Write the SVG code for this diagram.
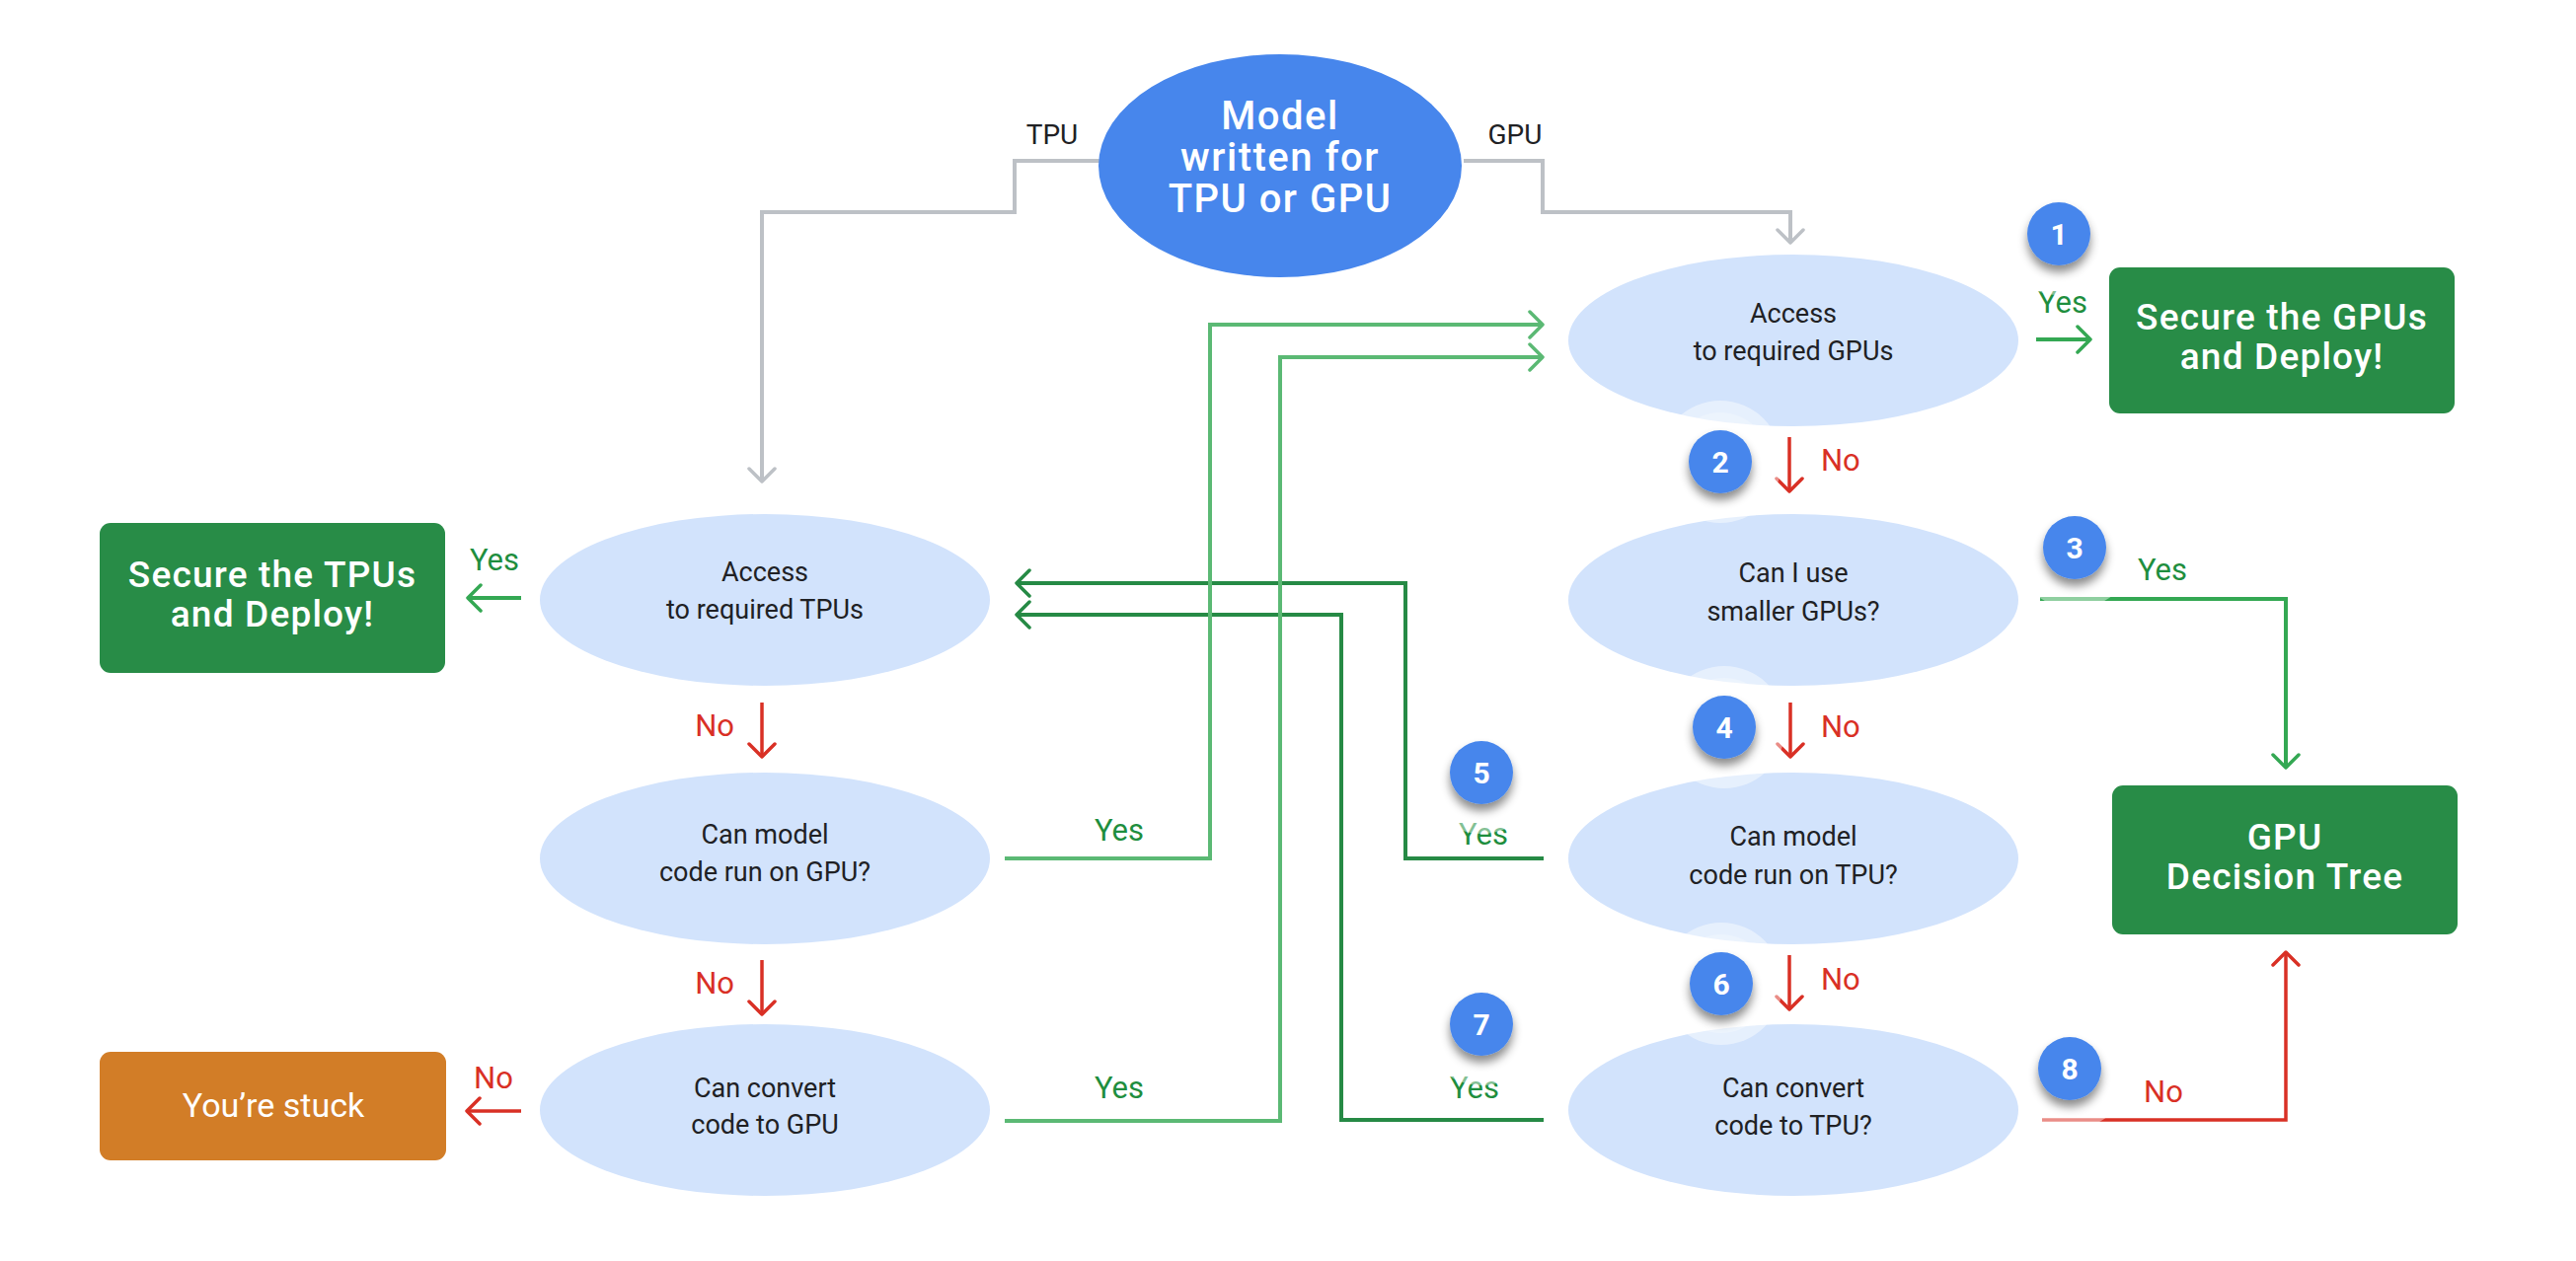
<svg xmlns="http://www.w3.org/2000/svg" width="2610" height="1278" viewBox="0 0 2610 1278">
<style>
text{font-family:"Google Sans",Roboto,"Open Sans","Liberation Sans",sans-serif}
.q{fill:#d2e3fc}
.qt{fill:#202124;font-size:27px;text-anchor:middle}
.bt{fill:#fff;font-size:37px;font-weight:500;letter-spacing:1.2px;text-anchor:middle}
.yes{fill:#1e8e3e;font-size:31px}
.no{fill:#d93025;font-size:31px}
.lab{fill:#202124;font-size:28px;text-anchor:middle}
.c{fill:none;stroke-width:4}
.gray{stroke:#bdc1c6}
.lg{stroke:#5bb974}
.dg{stroke:#268a45}
.mg{stroke:#34a853}
.red{stroke:#d93025;stroke-width:3.5}
.bd{fill:#4786ec}
.bn{fill:#fff;font-size:30px;font-weight:700;text-anchor:middle}
.halo1{fill:#fff;fill-opacity:0.45}
.halo2{fill:#fff;fill-opacity:0.25}
.mt{fill:#fff;font-size:40px;font-weight:500;letter-spacing:1.5px;text-anchor:middle}
</style>
<defs>
<filter id="sh" x="-60%" y="-60%" width="220%" height="220%">
<feDropShadow dx="0" dy="7" stdDeviation="5" flood-color="#000" flood-opacity="0.45"/>
</filter>
<marker id="aGray" viewBox="-2 -2 20 30" markerWidth="20" markerHeight="30" refX="14" refY="13" orient="auto" markerUnits="userSpaceOnUse"><path d="M1,0 L14,13 L1,26" fill="none" stroke="#bdc1c6" stroke-width="3.5" stroke-linecap="round" stroke-linejoin="round"/></marker>
<marker id="aLg" viewBox="-2 -2 20 30" markerWidth="20" markerHeight="30" refX="14" refY="13" orient="auto" markerUnits="userSpaceOnUse"><path d="M1,0 L14,13 L1,26" fill="none" stroke="#5bb974" stroke-width="3.5" stroke-linecap="round" stroke-linejoin="round"/></marker>
<marker id="aDg" viewBox="-2 -2 20 30" markerWidth="20" markerHeight="30" refX="14" refY="13" orient="auto" markerUnits="userSpaceOnUse"><path d="M1,0 L14,13 L1,26" fill="none" stroke="#268a45" stroke-width="3.5" stroke-linecap="round" stroke-linejoin="round"/></marker>
<marker id="aMg" viewBox="-2 -2 20 30" markerWidth="20" markerHeight="30" refX="14" refY="13" orient="auto" markerUnits="userSpaceOnUse"><path d="M1,0 L14,13 L1,26" fill="none" stroke="#34a853" stroke-width="3.5" stroke-linecap="round" stroke-linejoin="round"/></marker>
<marker id="aRed" viewBox="-2 -2 20 30" markerWidth="20" markerHeight="30" refX="14" refY="13" orient="auto" markerUnits="userSpaceOnUse"><path d="M1,0 L14,13 L1,26" fill="none" stroke="#d93025" stroke-width="3.5" stroke-linecap="round" stroke-linejoin="round"/></marker>
</defs>
<rect width="2610" height="1278" fill="#fff"/>

<g id="connectors">
<path class="c gray" d="M1114,163 H1028 V215 H772 V488" marker-end="url(#aGray)"/>
<path class="c gray" d="M1483,163 H1563 V215 H1814 V246" marker-end="url(#aGray)"/>
<path class="c dg" d="M1564,870 H1424 V591 H1030" marker-end="url(#aDg)"/>
<path class="c dg" d="M1564,1135 H1359 V623 H1030" marker-end="url(#aDg)"/>
<path class="c lg" d="M1018,870 H1226 V329 H1563" marker-end="url(#aLg)"/>
<path class="c lg" d="M1018,1136 H1297 V362 H1563" marker-end="url(#aLg)"/>
<path class="c mg" d="M2063,344 H2118" marker-end="url(#aMg)"/>
<path class="c mg" d="M528,606 H474" marker-end="url(#aMg)"/>
<path class="c mg" d="M2067,607 H2316 V778" marker-end="url(#aMg)"/>
<path class="c red" d="M1813,443 V498" marker-end="url(#aRed)"/>
<path class="c red" d="M1814,712 V767" marker-end="url(#aRed)"/>
<path class="c red" d="M1813,968 V1023" marker-end="url(#aRed)"/>
<path class="c red" d="M772,712 V767" marker-end="url(#aRed)"/>
<path class="c red" d="M772,973 V1028" marker-end="url(#aRed)"/>
<path class="c red" d="M528,1126 H473" marker-end="url(#aRed)"/>
<path class="c red" d="M2069,1135 H2316 V965" marker-end="url(#aRed)"/>
<text class="lab" x="1066" y="146">TPU</text>
<text class="lab" x="1535" y="146">GPU</text>
<text class="yes" x="2090" y="317" text-anchor="middle">Yes</text>
<text class="no" x="1845" y="477">No</text>
<text class="yes" x="2191" y="588" text-anchor="middle">Yes</text>
<text class="no" x="1845" y="747">No</text>
<text class="yes" x="1503" y="856" text-anchor="middle">Yes</text>
<text class="no" x="1845" y="1003">No</text>
<text class="yes" x="1494" y="1113" text-anchor="middle">Yes</text>
<text class="no" x="2192" y="1117" text-anchor="middle">No</text>
<text class="yes" x="501" y="578" text-anchor="middle">Yes</text>
<text class="no" x="744" y="746" text-anchor="end">No</text>
<text class="yes" x="1134" y="852" text-anchor="middle">Yes</text>
<text class="no" x="744" y="1007" text-anchor="end">No</text>
<text class="no" x="500" y="1103" text-anchor="middle">No</text>
<text class="yes" x="1134" y="1113" text-anchor="middle">Yes</text>
</g>

<g id="start">
<ellipse cx="1297" cy="168" rx="184" ry="113" fill="#4786ec"/>
<text class="mt" x="1297" y="131">Model</text>
<text class="mt" x="1297" y="173">written for</text>
<text class="mt" x="1297" y="215">TPU or GPU</text>
</g>

<g id="access-gpu">
<ellipse class="q" cx="1817" cy="345" rx="228" ry="87"/>
<text class="qt" x="1817" y="327">Access</text>
<text class="qt" x="1817" y="365">to required GPUs</text>
</g>
<g id="smaller-gpu">
<ellipse class="q" cx="1817" cy="608" rx="228" ry="87"/>
<text class="qt" x="1817" y="590">Can I use</text>
<text class="qt" x="1817" y="629">smaller GPUs?</text>
</g>
<g id="run-tpu">
<ellipse class="q" cx="1817" cy="870" rx="228" ry="87"/>
<text class="qt" x="1817" y="857">Can model</text>
<text class="qt" x="1817" y="896">code run on TPU?</text>
</g>
<g id="convert-tpu">
<ellipse class="q" cx="1817" cy="1125" rx="228" ry="87"/>
<text class="qt" x="1817" y="1112">Can convert</text>
<text class="qt" x="1817" y="1150">code to TPU?</text>
</g>
<g id="access-tpu">
<ellipse class="q" cx="775" cy="608" rx="228" ry="87"/>
<text class="qt" x="775" y="589">Access</text>
<text class="qt" x="775" y="627">to required TPUs</text>
</g>
<g id="run-gpu">
<ellipse class="q" cx="775" cy="870" rx="228" ry="87"/>
<text class="qt" x="775" y="855">Can model</text>
<text class="qt" x="775" y="893">code run on GPU?</text>
</g>
<g id="convert-gpu">
<ellipse class="q" cx="775" cy="1125" rx="228" ry="87"/>
<text class="qt" x="775" y="1112">Can convert</text>
<text class="qt" x="775" y="1149">code to GPU</text>
</g>

<g id="secure-gpus">
<rect x="2137" y="271" width="350" height="148" rx="11" fill="#288c47"/>
<text class="bt" x="2312" y="334">Secure the GPUs</text>
<text class="bt" x="2312" y="374">and Deploy!</text>
</g>
<g id="secure-tpus">
<rect x="101" y="530" width="350" height="152" rx="11" fill="#288c47"/>
<text class="bt" x="276" y="595">Secure the TPUs</text>
<text class="bt" x="276" y="635">and Deploy!</text>
</g>
<g id="gpu-tree">
<rect x="2140" y="796" width="350" height="151" rx="11" fill="#288c47"/>
<text class="bt" x="2315" y="861">GPU</text>
<text class="bt" x="2315" y="901">Decision Tree</text>
</g>
<g id="stuck">
<rect x="101" y="1066" width="351" height="110" rx="11" fill="#d27d27"/>
<text x="277" y="1132" fill="#fff" font-size="34" text-anchor="middle">You’re stuck</text>
</g>

<g id="badges">
<g id="b1"><circle class="halo1" cx="2086" cy="237" r="62"/><circle class="halo2" cx="2086" cy="237" r="50"/><circle class="bd" cx="2086" cy="237" r="32" filter="url(#sh)"/><text class="bn" x="2086" y="248">1</text></g>
<g id="b2"><circle class="halo1" cx="1743" cy="468" r="62"/><circle class="halo2" cx="1743" cy="468" r="50"/><circle class="bd" cx="1743" cy="468" r="32" filter="url(#sh)"/><text class="bn" x="1743" y="479">2</text></g>
<g id="b3"><circle class="halo1" cx="2102" cy="555" r="62"/><circle class="halo2" cx="2102" cy="555" r="50"/><circle class="bd" cx="2102" cy="555" r="32" filter="url(#sh)"/><text class="bn" x="2102" y="566">3</text></g>
<g id="b4"><circle class="halo1" cx="1747" cy="737" r="62"/><circle class="halo2" cx="1747" cy="737" r="50"/><circle class="bd" cx="1747" cy="737" r="32" filter="url(#sh)"/><text class="bn" x="1747" y="748">4</text></g>
<g id="b5"><circle class="halo1" cx="1501" cy="783" r="62"/><circle class="halo2" cx="1501" cy="783" r="50"/><circle class="bd" cx="1501" cy="783" r="32" filter="url(#sh)"/><text class="bn" x="1501" y="794">5</text></g>
<g id="b6"><circle class="halo1" cx="1744" cy="997" r="62"/><circle class="halo2" cx="1744" cy="997" r="50"/><circle class="bd" cx="1744" cy="997" r="32" filter="url(#sh)"/><text class="bn" x="1744" y="1008">6</text></g>
<g id="b7"><circle class="halo1" cx="1501" cy="1038" r="62"/><circle class="halo2" cx="1501" cy="1038" r="50"/><circle class="bd" cx="1501" cy="1038" r="32" filter="url(#sh)"/><text class="bn" x="1501" y="1049">7</text></g>
<g id="b8"><circle class="halo1" cx="2097" cy="1083" r="62"/><circle class="halo2" cx="2097" cy="1083" r="50"/><circle class="bd" cx="2097" cy="1083" r="32" filter="url(#sh)"/><text class="bn" x="2097" y="1094">8</text></g>
</g>
</svg>
